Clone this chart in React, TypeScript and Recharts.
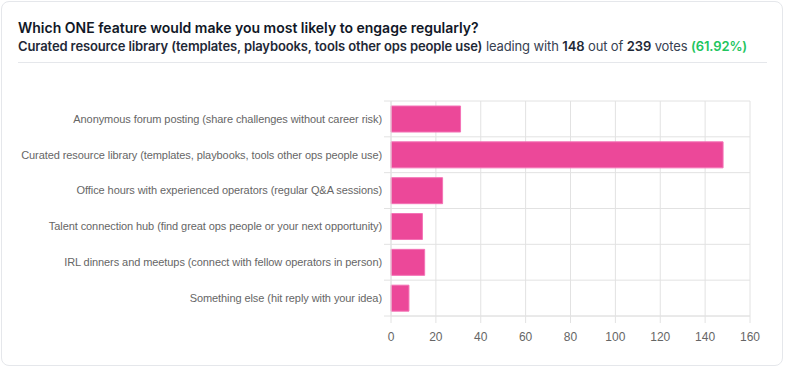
import React from "react";
import { BarChart, Bar, XAxis, YAxis, CartesianGrid } from "recharts";

const categories = [
  "Anonymous forum posting (share challenges without career risk)",
  "Curated resource library (templates, playbooks, tools other ops people use)",
  "Office hours with experienced operators (regular Q&A sessions)",
  "Talent connection hub (find great ops people or your next opportunity)",
  "IRL dinners and meetups (connect with fellow operators in person)",
  "Something else (hit reply with your idea)",
];
const votes = [31, 148, 23, 14, 15, 8];
const xTicks = [0, 20, 40, 60, 80, 100, 120, 140, 160];
const leader = "Curated resource library (templates, playbooks, tools other ops people use)";
const leaderVotes = 148;
const totalVotes = 239;
const leaderPct = "61.92%";

const data = categories.map((name, i) => ({ name, votes: votes[i] }));

const W = 786;
const H = 375;
const M_TOP = 101;
const X_AXIS_H = 59;
const PLOT_H = H - M_TOP - X_AXIS_H;
const BAND = PLOT_H / categories.length;
const GRID = "#e2e2e2";
const LABEL_FONT = "'Liberation Sans', Arial, Helvetica, sans-serif";

const YTick = (props: any) => {
  const { x, y, payload, index } = props;
  const ax = x + 8;
  return (
    <g>
      <text x={x - 1} y={y} dy="0.355em" textAnchor="end" fill="#666" fontSize={11} letterSpacing={-0.08} fontFamily={LABEL_FONT}>
        {payload.value}
      </text>
      <line x1={ax - 7} x2={ax} y1={y - BAND / 2} y2={y - BAND / 2} stroke={GRID} />
      {index === categories.length - 1 && (
        <line x1={ax - 7} x2={ax} y1={y + BAND / 2} y2={y + BAND / 2} stroke={GRID} />
      )}
    </g>
  );
};

export default function App() {
  return (
    <div style={{ position: "fixed", left: 0, top: 0, width: W, height: H, background: "#fff", fontFamily: "Inter, sans-serif" }}>
      <div
        style={{
          position: "absolute",
          left: 1,
          top: 1,
          width: 780,
          height: 363,
          border: "1px solid #e5e7eb",
          borderRadius: 8,
        }}
      />
      <div style={{ position: "absolute", left: 18, top: 18, fontSize: 14, fontWeight: 600, color: "#111827", lineHeight: "20px", whiteSpace: "nowrap" }}>
        Which ONE feature would make you most likely to engage regularly?
      </div>
      <div style={{ position: "absolute", left: 18, top: 37, fontSize: 13, letterSpacing: -0.12, color: "#374151", lineHeight: "18px", whiteSpace: "nowrap" }}>
        <span style={{ fontWeight: 600, color: "#1f2937" }}>{leader}</span> leading with{" "}
        <span style={{ fontWeight: 600, color: "#1f2937" }}>{leaderVotes}</span> out of{" "}
        <span style={{ fontWeight: 600, color: "#1f2937" }}>{totalVotes}</span> votes{" "}
        <span style={{ fontWeight: 600, color: "#22c55e" }}>({leaderPct})</span>
      </div>
      <div style={{ position: "absolute", left: 18, top: 62, width: 749, height: 1, background: "#e5e7eb" }} />
      <div style={{ position: "absolute", left: 0, top: 0 }}>
        <BarChart
          width={W}
          height={H}
          data={data}
          layout="vertical"
          margin={{ top: M_TOP, right: 36, bottom: 0, left: 0 }}
          barCategoryGap="14%"
        >
          <CartesianGrid
            stroke={GRID}
            horizontalCoordinatesGenerator={({ offset }: any) =>
              categories.map((_, i) => offset.top + i * (offset.height / categories.length)).concat([offset.top + offset.height])
            }
          />
          <XAxis
            type="number"
            domain={[0, 160]}
            ticks={xTicks}
            height={X_AXIS_H}
            tickSize={7}
            tickMargin={9}
            axisLine={{ stroke: GRID }}
            tickLine={{ stroke: GRID }}
            tick={{ fill: "#666", fontSize: 12, fontFamily: LABEL_FONT }}
            interval={0}
          />
          <YAxis
            type="category"
            dataKey="name"
            width={391}
            tickSize={6}
            tickMargin={2}
            axisLine={{ stroke: GRID }}
            tickLine={false}
            tick={<YTick />}
            interval={0}
          />
          <Bar dataKey="votes" fill="#ec4899" stroke="#f472b6" strokeWidth={1} isAnimationActive={false} />
        </BarChart>
      </div>
    </div>
  );
}
